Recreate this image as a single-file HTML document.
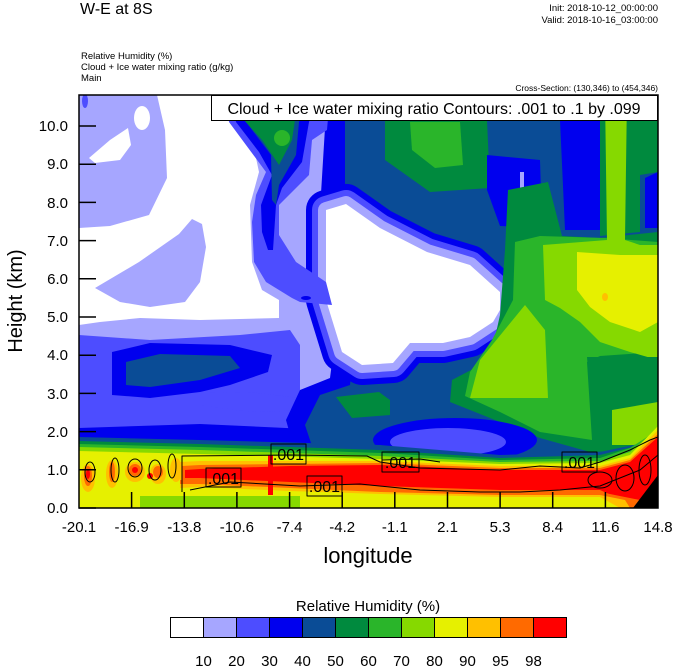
<!DOCTYPE html>
<html><head><meta charset="utf-8"><style>
html,body{margin:0;padding:0;background:#fff;}
svg{display:block;font-family:"Liberation Sans",sans-serif;}
</style></head><body>
<svg width="674" height="667" viewBox="0 0 674 667" xmlns="http://www.w3.org/2000/svg">
<defs><clipPath id="pc"><rect x="79" y="95" width="579" height="413"/></clipPath></defs>
<g clip-path="url(#pc)" stroke-linejoin="round">
<rect x="79" y="95" width="579" height="413" fill="#a6a6ff"/>
<polygon fill="#4d4dff" points="79,335 150,340 240,335 290,330 300,345 300,395 320,410 355,412 362,375 390,380 390,470 79,470"/>
<polygon fill="#0000ee" points="112,352 150,343 230,345 272,355 268,372 230,385 200,392 150,398 112,395"/>
<polygon fill="#0a4c96" points="126,362 160,354 230,356 240,368 200,380 150,387 126,385"/>
<polygon fill="#4d4dff" points="200,393 250,392 300,398 312,410 250,412 200,405"/>
<polygon fill="#0000ee" points="79,428 200,424 286,428 380,432 390,470 79,470"/>
<polygon fill="#0000ee" points="327,95 658,95 658,470 300,470 286,420 300,390 330,378 340,300 320,210"/>
<polygon fill="#0a4c96" points="345,95 658,95 658,470 320,470 305,425 320,395 350,385 360,300 345,210"/>
<polygon fill="#008a3e" points="336,397 379,392 390,400 390,415 352,418"/>
<g>
<path d="M326,210 L346,204 L380,228 L427,252 L470,265 L500,292 L500,310 L493,322 L470,337 L443,343 L410,343 L393,363 L362,365 L342,352 L326,300 Z" fill="#fff" stroke="#0000ee" stroke-width="40"/>
<path d="M326,210 L346,204 L380,228 L427,252 L470,265 L500,292 L500,310 L493,322 L470,337 L443,343 L410,343 L393,363 L362,365 L342,352 L326,300 Z" fill="#fff" stroke="#4d4dff" stroke-width="28"/>
<path d="M326,210 L346,204 L380,228 L427,252 L470,265 L500,292 L500,310 L493,322 L470,337 L443,343 L410,343 L393,363 L362,365 L342,352 L326,300 Z" fill="#fff" stroke="#a6a6ff" stroke-width="16"/>
<path d="M326,210 L346,204 L380,228 L427,252 L470,265 L500,292 L500,310 L493,322 L470,337 L443,343 L410,343 L393,363 L362,365 L342,352 L326,300 Z" fill="#fff"/>
</g>
<polygon fill="#008a3e" points="385,120 487,120 490,188 430,192 385,160"/>
<polygon fill="#2ab52a" points="410,122 460,122 463,165 435,168 412,150"/>
<polygon fill="#0000ee" points="487,155 540,160 542,228 500,226 487,190"/>
<polygon fill="#a6a6ff" points="520,172 524,172 524,190 520,190"/>
<polygon fill="#0000ee" points="560,120 600,120 602,230 565,230"/>
<polygon fill="#008a3e" points="600,95 658,95 658,172 640,175 640,232 600,236"/>
<polygon fill="#0000ee" points="645,178 658,172 658,228 645,228"/>
<polygon fill="#008a3e" points="508,190 548,182 562,236 600,238 658,232 658,450 590,452 540,438 490,418 450,402 452,380 490,360 500,315 505,250"/>
<polygon fill="#2ab52a" points="513,300 515,242 540,236 605,238 658,242 658,352 600,356 587,362 592,440 540,432 500,412 465,396 470,372 492,340"/>
<polygon fill="#86d900" points="605,95 627,95 625,240 640,245 658,245 658,360 630,352 600,342 580,322 560,308 545,300 543,245 607,240"/>
<polygon fill="#86d900" points="525,305 545,330 548,398 470,398 480,360"/>
<polygon fill="#e6f000" points="577,252 620,255 658,255 658,322 640,332 610,322 590,307 577,290"/>
<ellipse cx="605" cy="297" rx="3" ry="4" fill="#ffc000"/>
<polygon fill="#008a3e" points="587,357 658,357 658,410 620,410 590,392"/>
<polygon fill="#86d900" points="612,410 658,402 658,445 612,445"/>
<ellipse cx="455" cy="440" rx="82" ry="22" fill="#0000ee"/>
<ellipse cx="448" cy="442" rx="58" ry="14" fill="#4d4dff"/>
<polygon fill="#fff" points="157,95 226,95 250,130 259,172 250,205 252,262 262,290 279,300 279,318 200,320 140,318 100,322 79,325 79,228 110,226 149,215 167,178 165,130"/>
<polygon fill="#a6a6ff" points="95,288 139,262 179,234 192,219 202,224 206,247 200,282 185,302 150,307 120,302"/>
<ellipse cx="142" cy="118" rx="8" ry="12" fill="#fff"/>
<polygon fill="#fff" points="89,158 110,140 128,128 131,145 120,160 95,163"/>
<ellipse cx="85" cy="101" rx="3" ry="7" fill="#4d4dff"/>
<polygon fill="#4d4dff" points="226,95 330,95 327,130 312,140 309,175 279,205 279,235 296,262 326,282 332,305 300,302 292,298 266,282 254,262 252,222 256,195 266,172 246,145 229,122"/>
<polygon fill="#0000ee" points="230,95 318,95 309,122 302,162 282,188 276,205 273,250 268,250 262,232 261,205 272,175 259,152 236,122"/>
<polygon fill="#0a4c96" points="240,95 305,95 299,122 296,155 279,185 276,205 272,200 271,155 246,122"/>
<polygon fill="#008a3e" points="244,120 295,120 292,140 279,165 262,140"/>
<circle cx="282" cy="138" r="8" fill="#2ab52a"/>
<ellipse cx="306" cy="298" rx="5" ry="2" fill="#0000ee"/>
<!-- bottom bands -->
<polygon fill="#0a4c96" points="79,437 200,440 380,445 500,455 600,452 658,440 658,508 79,508"/>
<polygon fill="#008a3e" points="79,441 200,444 380,450 500,458 600,455 640,445 658,432 658,508 79,508"/>
<polygon fill="#2ab52a" points="79,444 200,447 380,453 500,460 600,458 630,448 658,430 658,508 79,508"/>
<polygon fill="#86d900" points="79,447 200,450 380,456 500,462 600,461 630,452 658,428 658,508 79,508"/>
<polygon fill="#e6f000" points="79,451 200,454 380,459 500,464 600,463 630,455 658,426 658,508 79,508"/>
<polygon fill="#ffc000" points="180,462 200,461 380,461 500,466 600,466 630,458 658,430 658,508 180,508"/>
<polygon fill="#ff6a00" points="182,466 200,465 380,463 500,468 600,468 630,460 658,434 658,508 182,508"/>
<polygon fill="#ff0000" points="185,470 200,469 290,466 380,465 500,470 600,470 630,462 658,437 658,508 640,508 600,490 500,490 380,486 290,482 200,478 185,478"/>
<polygon fill="#ff6a00" points="180,480 200,480 290,484 380,489 500,492 600,492 640,500 640,508 180,508"/>
<polygon fill="#ffc000" points="180,484 200,484 290,488 380,492 500,495 600,495 625,500 630,508 180,508"/>
<polygon fill="#e6f000" points="180,488 200,487 290,491 380,494 500,497 600,497 620,508 180,508"/>
<!-- left spotty band -->
<g fill="#ffc000"><ellipse cx="88" cy="478" rx="7" ry="14"/><ellipse cx="112" cy="474" rx="6" ry="14"/><ellipse cx="135" cy="472" rx="10" ry="10"/><ellipse cx="158" cy="474" rx="8" ry="10"/><ellipse cx="176" cy="470" rx="6" ry="12"/></g>
<g fill="#ff6a00"><ellipse cx="88" cy="476" rx="4" ry="10"/><ellipse cx="112" cy="472" rx="3" ry="10"/><ellipse cx="135" cy="470" rx="6" ry="6"/><ellipse cx="158" cy="472" rx="5" ry="6"/></g>
<g fill="#ff0000"><ellipse cx="88" cy="474" rx="2" ry="5"/><ellipse cx="135" cy="470" rx="3" ry="3"/><ellipse cx="150" cy="476" rx="3" ry="3"/></g>
<rect x="140" y="496" width="160" height="12" fill="#86d900"/>
<rect x="268" y="455" width="5" height="40" fill="#ff0000"/>
<polygon fill="#000" points="633,508 658,508 658,475"/>
<g fill="none" stroke="#000" stroke-width="1">
<polyline points="182,492 182,456 290,455 367,456 380,462 420,468 500,470 540,466 580,468 600,462 630,450 650,440 658,437"/>
<polyline points="190,490 230,482 300,486 360,484 420,490 480,492 520,492 560,490 600,486 640,470 658,455"/>
<polyline points="382,470 382,460 420,459 440,462"/>
<ellipse cx="90" cy="472" rx="5" ry="10"/>
<ellipse cx="115" cy="470" rx="4" ry="12"/>
<ellipse cx="135" cy="468" rx="7" ry="9"/>
<ellipse cx="155" cy="470" rx="6" ry="10"/>
<ellipse cx="172" cy="466" rx="4" ry="12"/>
<ellipse cx="600" cy="480" rx="12" ry="8"/>
<ellipse cx="625" cy="478" rx="9" ry="13"/>
<ellipse cx="645" cy="470" rx="6" ry="15"/>
<rect x="206" y="468" width="35" height="19"/>
<rect x="271" y="444" width="35" height="20"/>
<rect x="307" y="476" width="35" height="20"/>
<rect x="382" y="452" width="37" height="20"/>
<rect x="562" y="452" width="35" height="20"/>
</g>
<g font-size="16" fill="#000" text-anchor="middle">
<text x="223.5" y="484">.001</text>
<text x="288.5" y="460">.001</text>
<text x="324.5" y="492">.001</text>
<text x="400.5" y="468">.001</text>
<text x="579.5" y="468">.001</text>
</g>
</g>
<rect x="79" y="95" width="579" height="413" fill="none" stroke="#000" stroke-width="1.5"/>
<g stroke="#000" stroke-width="1.5">
<line x1="79" y1="508" x2="96" y2="508"/><line x1="79" y1="469.8" x2="96" y2="469.8"/><line x1="79" y1="431.6" x2="96" y2="431.6"/><line x1="79" y1="393.4" x2="96" y2="393.4"/><line x1="79" y1="355.2" x2="96" y2="355.2"/><line x1="79" y1="317" x2="96" y2="317"/><line x1="79" y1="278.8" x2="96" y2="278.8"/><line x1="79" y1="240.6" x2="96" y2="240.6"/><line x1="79" y1="202.4" x2="96" y2="202.4"/><line x1="79" y1="164.2" x2="96" y2="164.2"/><line x1="79" y1="126" x2="96" y2="126"/>
<line x1="131.6" y1="508" x2="131.6" y2="492"/><line x1="184.3" y1="508" x2="184.3" y2="492"/><line x1="236.9" y1="508" x2="236.9" y2="492"/><line x1="289.6" y1="508" x2="289.6" y2="492"/><line x1="342.2" y1="508" x2="342.2" y2="492"/><line x1="394.8" y1="508" x2="394.8" y2="492"/><line x1="447.5" y1="508" x2="447.5" y2="492"/><line x1="500.1" y1="508" x2="500.1" y2="492"/><line x1="552.7" y1="508" x2="552.7" y2="492"/><line x1="605.4" y1="508" x2="605.4" y2="492"/>
</g>
<g font-size="15" text-anchor="end" fill="#000">
<text x="68" y="513">0.0</text><text x="68" y="475">1.0</text><text x="68" y="437">2.0</text><text x="68" y="399">3.0</text><text x="68" y="360">4.0</text><text x="68" y="322">5.0</text><text x="68" y="284">6.0</text><text x="68" y="246">7.0</text><text x="68" y="208">8.0</text><text x="68" y="169">9.0</text><text x="68" y="131">10.0</text>
</g>
<g font-size="15" text-anchor="middle" fill="#000">
<text x="79" y="532">-20.1</text><text x="131.6" y="532">-16.9</text><text x="184.3" y="532">-13.8</text><text x="236.9" y="532">-10.6</text><text x="289.6" y="532">-7.4</text><text x="342.2" y="532">-4.2</text><text x="394.8" y="532">-1.1</text><text x="447.5" y="532">2.1</text><text x="500.1" y="532">5.3</text><text x="552.7" y="532">8.4</text><text x="605.4" y="532">11.6</text><text x="658" y="532">14.8</text>
</g>
<text x="368" y="563" font-size="22" text-anchor="middle">longitude</text>
<text transform="translate(22,301) rotate(-90)" font-size="20" text-anchor="middle">Height (km)</text>
<text x="80" y="14" font-size="16">W-E at 8S</text>
<text x="658" y="11" font-size="9.5" text-anchor="end">Init: 2018-10-12_00:00:00</text>
<text x="658" y="23" font-size="9.5" text-anchor="end">Valid: 2018-10-16_03:00:00</text>
<text x="81" y="59" font-size="9.5">Relative Humidity   (%)</text>
<text x="81" y="70" font-size="9.5">Cloud + Ice water mixing ratio   (g/kg)</text>
<text x="81" y="81" font-size="9.5">Main</text>
<text x="658" y="91" font-size="8.5" text-anchor="end">Cross-Section: (130,346) to (454,346)</text>
<rect x="211.5" y="95.5" width="446" height="25" fill="#fff" stroke="#000" stroke-width="1"/>
<text x="434" y="114" font-size="16" text-anchor="middle">Cloud + Ice water mixing ratio Contours: .001 to .1 by .099</text>
<text x="368" y="611" font-size="15" text-anchor="middle">Relative Humidity  (%)</text>
<g stroke="#000" stroke-width="1">
<rect x="170.5" y="617.5" width="33" height="20" fill="#fff"/>
<rect x="203.5" y="617.5" width="33" height="20" fill="#a6a6ff"/>
<rect x="236.5" y="617.5" width="33" height="20" fill="#4d4dff"/>
<rect x="269.5" y="617.5" width="33" height="20" fill="#0000ee"/>
<rect x="302.5" y="617.5" width="33" height="20" fill="#0a4c96"/>
<rect x="335.5" y="617.5" width="33" height="20" fill="#008a3e"/>
<rect x="368.5" y="617.5" width="33" height="20" fill="#2ab52a"/>
<rect x="401.5" y="617.5" width="33" height="20" fill="#86d900"/>
<rect x="434.5" y="617.5" width="33" height="20" fill="#e6f000"/>
<rect x="467.5" y="617.5" width="33" height="20" fill="#ffc000"/>
<rect x="500.5" y="617.5" width="33" height="20" fill="#ff6a00"/>
<rect x="533.5" y="617.5" width="33" height="20" fill="#ff0000"/>
</g>
<g font-size="15" text-anchor="middle">
<text x="203.5" y="666">10</text><text x="236.5" y="666">20</text><text x="269.5" y="666">30</text><text x="302.5" y="666">40</text><text x="335.5" y="666">50</text><text x="368.5" y="666">60</text><text x="401.5" y="666">70</text><text x="434.5" y="666">80</text><text x="467.5" y="666">90</text><text x="500.5" y="666">95</text><text x="533.5" y="666">98</text>
</g>
</svg>
</body></html>
